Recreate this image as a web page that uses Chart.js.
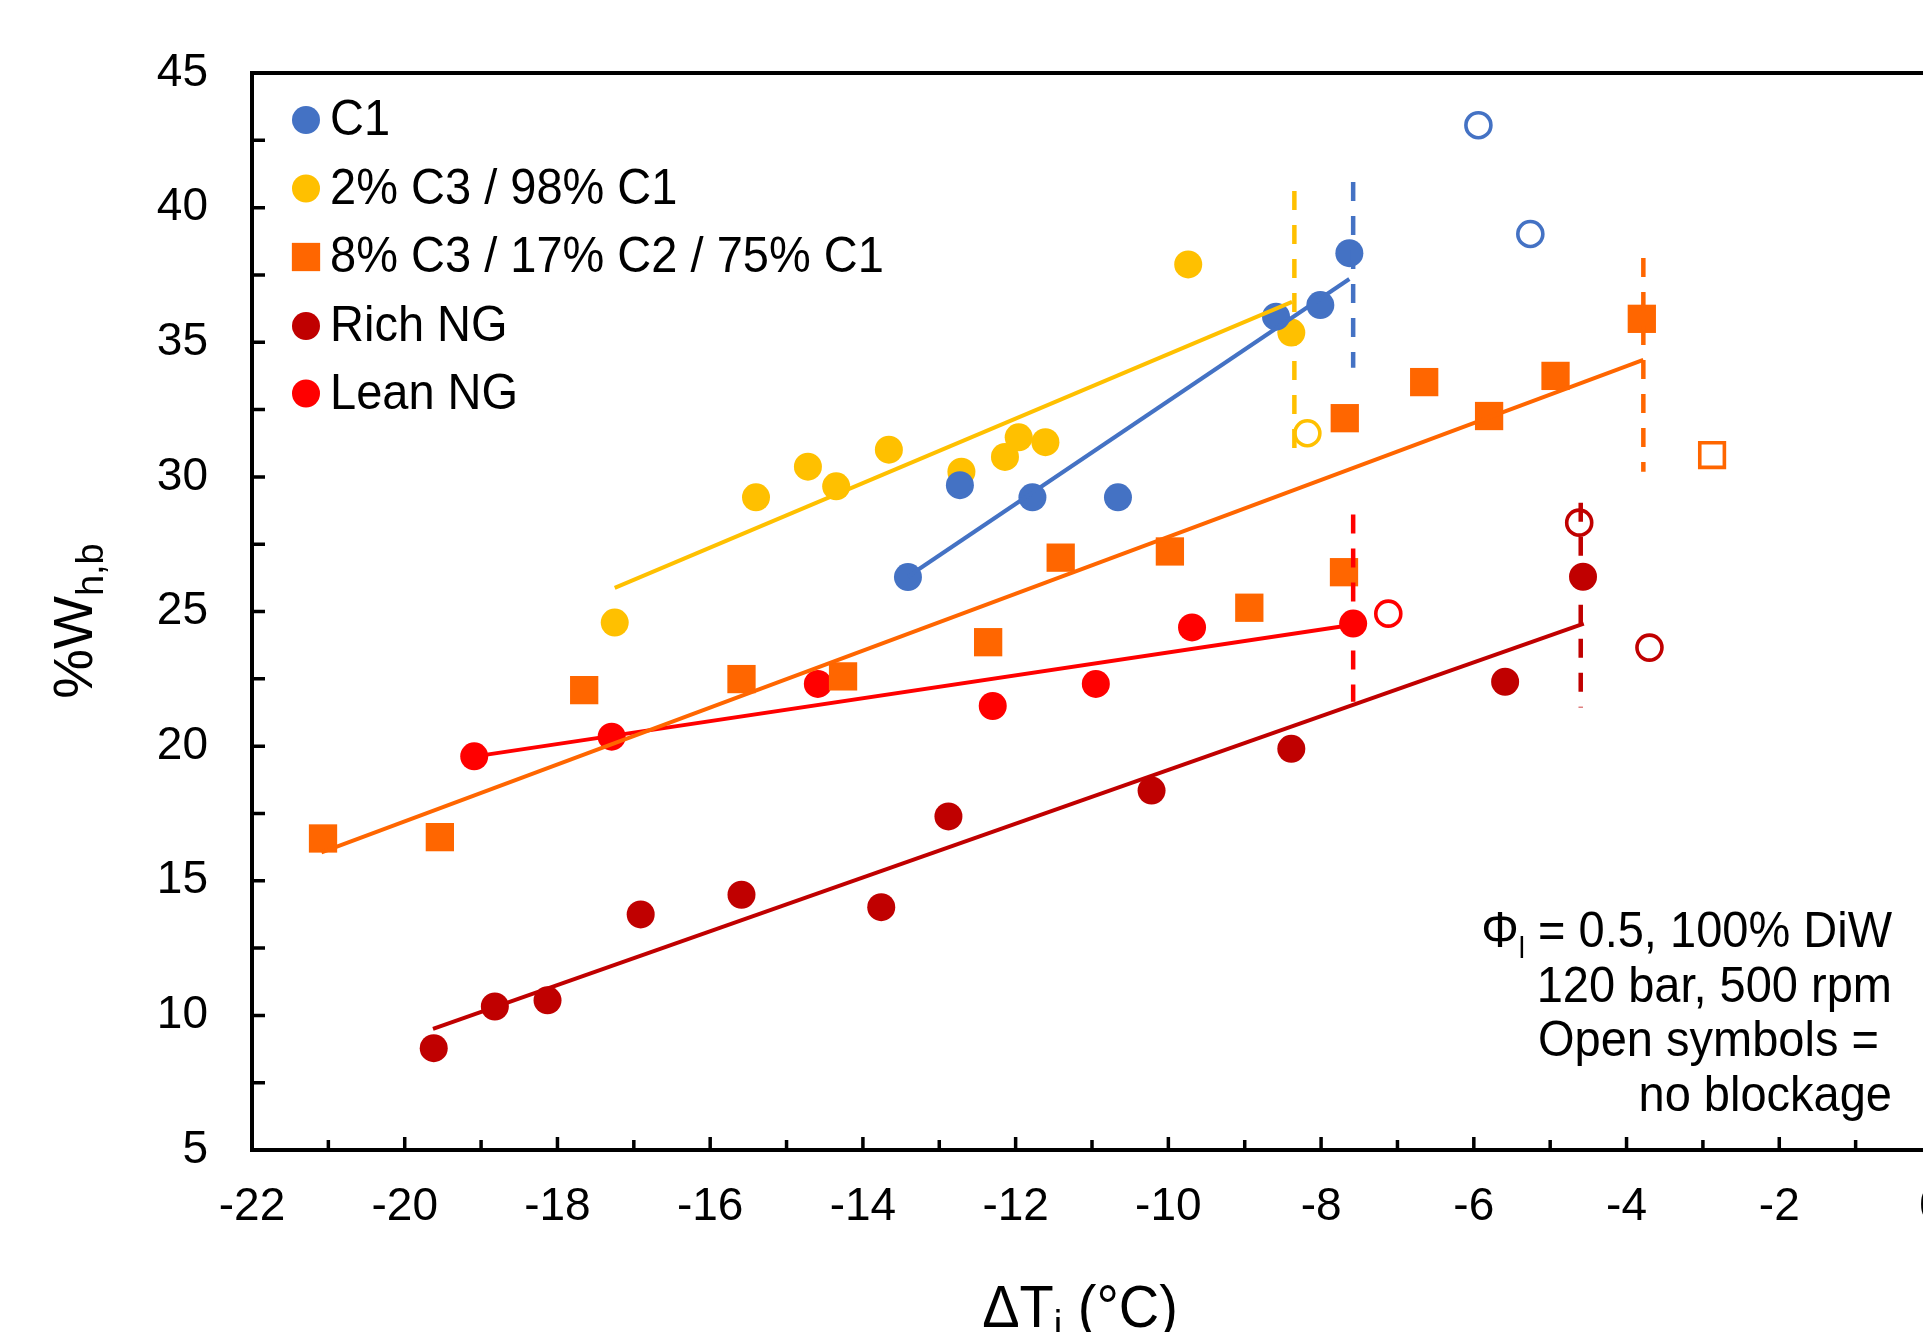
<!DOCTYPE html>
<html>
<head>
<meta charset="utf-8">
<script src="https://cdn.jsdelivr.net/npm/chart.js@4.4.1/dist/chart.umd.min.js"></script>
<style>
  html, body { margin: 0; padding: 0; background: #fff; overflow: hidden; }
  #wrap { width: 1923px; height: 1332px; overflow: hidden; }
</style>
</head>
<body>
<div id="wrap"><canvas id="chart" width="1990" height="1332"></canvas></div>
<script>
// tick labels
const xTickValues = [-22, -20, -18, -16, -14, -12, -10, -8, -6, -4, -2, 0];
const yTickValues = [5, 10, 15, 20, 25, 30, 35, 40, 45];

// legend names
const seriesNames = ['C1', '2% C3 / 98% C1', '8% C3 / 17% C2 / 75% C1', 'Rich NG', 'Lean NG'];
const seriesColors = ['#4472C4', '#FFC000', '#FF6600', '#C00000', '#FF0000'];
const seriesStyles = ['circle', 'circle', 'rect', 'circle', 'circle'];

// C1
const c1X = [-13.41, -12.73, -11.78, -10.66, -8.59, -8.01, -7.63];
const c1Y = [26.28, 29.69, 29.24, 29.24, 35.95, 36.38, 38.31];
const c1OpenX = [-5.94, -5.26];
const c1OpenY = [43.06, 39.02];
const c1FitX = [-13.41, -7.63];
const c1FitY = [26.3, 37.35];
const c1LimitX = [-7.58, -7.58];
const c1LimitY = [40.95, 34.05];

// 2% C3 / 98% C1
const c3lowX = [-17.25, -15.40, -14.72, -14.35, -13.66, -12.71, -12.14, -11.96, -11.61, -9.74, -8.39];
const c3lowY = [24.59, 29.24, 30.38, 29.65, 31.01, 30.19, 30.74, 31.47, 31.29, 37.89, 35.36];
const c3lowOpenX = [-8.18];
const c3lowOpenY = [31.62];
const c3lowFitX = [-17.25, -8.38];
const c3lowFitY = [25.88, 36.5];
const c3lowLimitX = [-8.35, -8.35];
const c3lowLimitY = [40.62, 30.52];

// 8% C3 / 17% C2 / 75% C1
const c3highX = [-21.07, -19.54, -17.65, -15.59, -14.26, -12.36, -11.41, -9.98, -8.94, -7.70, -7.69, -6.65, -5.80, -4.93, -3.80];
const c3highY = [16.57, 16.62, 22.08, 22.49, 22.59, 23.86, 27.00, 27.23, 25.14, 26.46, 32.18, 33.52, 32.26, 33.75, 35.87];
const c3highOpenX = [-2.88];
const c3highOpenY = [30.81];
const c3highFitX = [-21.09, -3.78];
const c3highFitY = [16.05, 34.35];
const c3highLimitX = [-3.78, -3.78];
const c3highLimitY = [38.13, 30.19];

// Rich NG
const richX = [-19.62, -18.82, -18.13, -16.91, -15.59, -13.76, -12.88, -10.22, -8.39, -5.59, -4.57];
const richY = [8.78, 10.33, 10.56, 13.75, 14.48, 14.02, 17.39, 18.35, 19.90, 22.39, 26.29];
const richOpenX = [-4.62, -3.70];
const richOpenY = [28.3, 23.66];
const richFitX = [-19.63, -4.56];
const richFitY = [9.5, 24.55];
const richLimitX = [-4.60, -4.60];
const richLimitY = [29.04, 21.43];

// Lean NG
const leanX = [-19.09, -17.29, -14.59, -12.30, -10.95, -9.69, -7.58];
const leanY = [19.62, 20.35, 22.31, 21.49, 22.31, 24.41, 24.55];
const leanOpenX = [-7.12];
const leanOpenY = [24.92];
const leanFitX = [-19.1, -7.58];
const leanFitY = [19.61, 24.51];
const leanLimitX = [-7.58, -7.58];
const leanLimitY = [28.6, 21.65];

const toPoints = (xs, ys) => xs.map((x, i) => ({ x: x, y: ys[i] }));

const series = [
    { x: c1X, y: c1Y, ox: c1OpenX, oy: c1OpenY, fx: c1FitX, fy: c1FitY, lx: c1LimitX, ly: c1LimitY },
    { x: c3lowX, y: c3lowY, ox: c3lowOpenX, oy: c3lowOpenY, fx: c3lowFitX, fy: c3lowFitY, lx: c3lowLimitX, ly: c3lowLimitY },
    { x: c3highX, y: c3highY, ox: c3highOpenX, oy: c3highOpenY, fx: c3highFitX, fy: c3highFitY, lx: c3highLimitX, ly: c3highLimitY },
    { x: richX, y: richY, ox: richOpenX, oy: richOpenY, fx: richFitX, fy: richFitY, lx: richLimitX, ly: richLimitY },
    { x: leanX, y: leanY, ox: leanOpenX, oy: leanOpenY, fx: leanFitX, fy: leanFitY, lx: leanLimitX, ly: leanLimitY }
];

const markerRadius = (style) => style === 'rect' ? 20 : 14;
const openRadius = (style) => style === 'rect' ? 17.4 : 12.5;

const datasets = [];
series.forEach((s, i) => {
    const color = seriesColors[i];
    const style = seriesStyles[i];
    datasets.push({
        label: seriesNames[i],
        data: toPoints(s.x, s.y),
        showLine: false,
        pointStyle: style,
        pointRadius: markerRadius(style),
        pointBackgroundColor: color,
        pointBorderColor: color,
        pointBorderWidth: 0,
        order: 2
    });
    datasets.push({
        label: seriesNames[i] + ' open',
        data: toPoints(s.ox, s.oy),
        showLine: false,
        pointStyle: style,
        pointRadius: openRadius(style),
        pointBackgroundColor: '#ffffff',
        pointBorderColor: color,
        pointBorderWidth: 3.6,
        order: 2
    });
    datasets.push({
        label: seriesNames[i] + ' fit',
        data: toPoints(s.fx, s.fy),
        showLine: true,
        borderColor: color,
        borderWidth: 4,
        pointRadius: 0,
        order: 1
    });
    datasets.push({
        label: seriesNames[i] + ' limit',
        data: toPoints(s.lx, s.ly),
        showLine: true,
        borderColor: color,
        borderWidth: 4.5,
        borderDash: [19, 15],
        borderCapStyle: 'butt',
        pointRadius: 0,
        order: 0
    });
});

const FONT = "'Liberation Sans', Arial, sans-serif";
const STRETCH = 1.07; // text in the source is a little taller than wide

// draw text with a slight vertical stretch, (x, y) is the baseline start
function tallText(ctx, text, x, y, size) {
    ctx.save();
    ctx.font = size + 'px ' + FONT;
    ctx.translate(x, y);
    ctx.scale(1, STRETCH);
    ctx.fillText(text, 0, 0);
    ctx.restore();
}

function textWidth(ctx, text, size) {
    ctx.font = size + 'px ' + FONT;
    return ctx.measureText(text).width;
}

const frameAndText = {
    id: 'frameAndText',
    afterDatasetsDraw(chart) {
        const ctx = chart.ctx;
        const area = chart.chartArea;
        const xs = chart.scales.x;
        const ys = chart.scales.y;
        ctx.save();
        ctx.strokeStyle = '#000';
        ctx.lineWidth = 3.5;
        // inner tick marks
        ctx.beginPath();
        for (let v = 7.5; v < 45; v += 2.5) {
            const py = ys.getPixelForValue(v);
            ctx.moveTo(area.left, py);
            ctx.lineTo(area.left + 13, py);
        }
        for (let v = -21; v < 0; v += 1) {
            const px = xs.getPixelForValue(v);
            const len = (v % 2 === 0) ? 13 : 10;
            ctx.moveTo(px, area.bottom);
            ctx.lineTo(px, area.bottom - len);
        }
        ctx.stroke();
        // frame
        ctx.lineWidth = 4;
        ctx.beginPath();
        ctx.moveTo(area.right, area.top);
        ctx.lineTo(area.left, area.top);
        ctx.lineTo(area.left, area.bottom);
        ctx.lineTo(area.right, area.bottom);
        ctx.lineTo(area.right, area.top);
        ctx.stroke();
        ctx.restore();
    },
    afterDraw(chart) {
        const ctx = chart.ctx;
        ctx.save();
        ctx.fillStyle = '#000';
        ctx.textAlign = 'left';
        ctx.textBaseline = 'alphabetic';

        // legend
        const legendY = [135, 203.5, 272, 341, 408.5];
        seriesNames.forEach((name, i) => {
            ctx.fillStyle = seriesColors[i];
            ctx.strokeStyle = seriesColors[i];
            Chart.helpers.drawPoint(ctx, {
                pointStyle: seriesStyles[i],
                radius: markerRadius(seriesStyles[i]),
                rotation: 0,
                borderWidth: 0
            }, 306, legendY[i] - 15);
            ctx.fillStyle = '#000';
            tallText(ctx, name, 330, legendY[i], 47);
        });

        // y title
        ctx.save();
        ctx.translate(92, 621);
        ctx.rotate(-Math.PI / 2);
        const wMain = textWidth(ctx, '%W', 56);
        const wSub = textWidth(ctx, 'h,b', 38);
        const sx = -(wMain + wSub) / 2;
        ctx.font = '56px ' + FONT;
        ctx.fillText('%W', sx, 0);
        ctx.font = '38px ' + FONT;
        ctx.fillText('h,b', sx + wMain, 11);
        ctx.restore();

        // x title
        const wA = textWidth(ctx, '\u0394T', 56);
        const wB = textWidth(ctx, 'i', 38);
        const wC = textWidth(ctx, ' (\u00B0C)', 56);
        const tx = 1080 - (wA + wB + wC) / 2;
        tallText(ctx, '\u0394T', tx, 1327, 56);
        tallText(ctx, 'i', tx + wA, 1339, 38);
        tallText(ctx, ' (\u00B0C)', tx + wA + wB, 1327, 56);

        // note, right aligned
        const right = 1892;
        const p1 = textWidth(ctx, '\u03A6', 47);
        const p2 = textWidth(ctx, 'l', 28);
        const p3 = textWidth(ctx, ' = 0.5, 100% DiW', 47);
        const nx = right - (p1 + p2 + p3);
        tallText(ctx, '\u03A6', nx, 947, 47);
        tallText(ctx, 'l', nx + p1, 958, 28);
        tallText(ctx, ' = 0.5, 100% DiW', nx + p1 + p2, 947, 47);
        const noteLines = ['120 bar, 500 rpm', 'Open symbols = ', 'no blockage'];
        const noteBase = [1002, 1056, 1111];
        noteLines.forEach((line, i) => {
            tallText(ctx, line, right - textWidth(ctx, line, 47), noteBase[i], 47);
        });
        ctx.restore();
    }
};

new Chart(document.getElementById('chart'), {
    type: 'scatter',
    data: { datasets: datasets },
    options: {
        responsive: false,
        animation: false,
        layout: { padding: { left: 0, top: 73, right: 58, bottom: 0 } },
        plugins: {
            legend: { display: false },
            tooltip: { enabled: false }
        },
        scales: {
            x: {
                type: 'linear',
                min: -22,
                max: 0,
                afterBuildTicks: (scale) => { scale.ticks = xTickValues.map(v => ({ value: v })); },
                afterFit: (scale) => { scale.height = 182; },
                grid: { display: false, drawTicks: false },
                border: { display: false },
                ticks: {
                    color: '#000',
                    padding: 30,
                    maxRotation: 0,
                    autoSkip: false,
                    font: { family: FONT, size: 46 }
                }
            },
            y: {
                type: 'linear',
                min: 5,
                max: 45,
                afterBuildTicks: (scale) => { scale.ticks = yTickValues.map(v => ({ value: v })); },
                afterFit: (scale) => { scale.width = 252; },
                grid: { display: false, drawTicks: false },
                border: { display: false },
                ticks: {
                    color: '#000',
                    padding: 44,
                    autoSkip: false,
                    font: { family: FONT, size: 46 }
                }
            }
        }
    },
    plugins: [frameAndText]
});
</script>
</body>
</html>
